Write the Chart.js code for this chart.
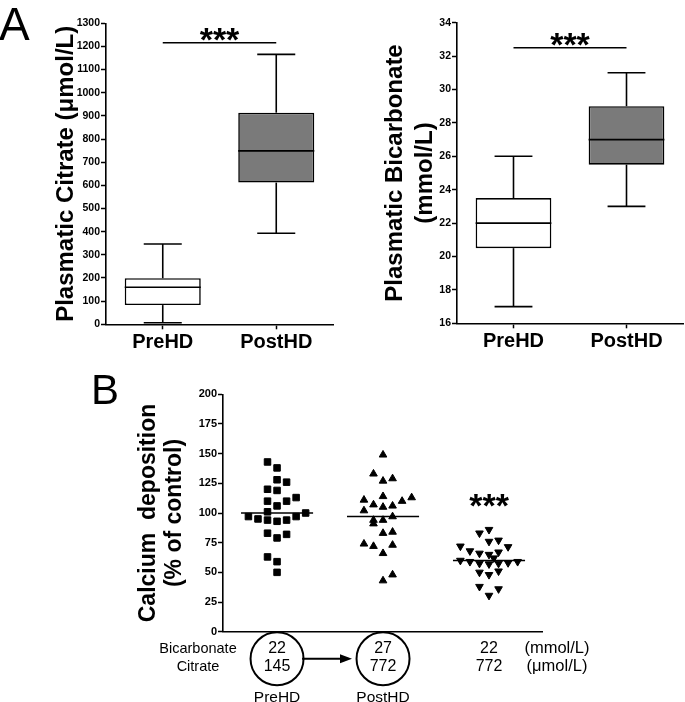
<!DOCTYPE html>
<html>
<head>
<meta charset="utf-8">
<script src="https://cdn.jsdelivr.net/npm/chart.js@4.4.1/dist/chart.umd.min.js"></script>
<style>
  body{margin:0;background:#fff;}
  #wrap{position:relative;width:685px;height:702px;background:#fff;overflow:hidden}
  .cv{position:absolute}
  .letter{position:absolute;font-family:'Liberation Sans',Arial,sans-serif;line-height:1;color:#000}
</style>
</head>
<body>
<div id="wrap">
  <canvas id="c-citrate" class="cv" width="340" height="360" style="left:0;top:0"></canvas>
  <canvas id="c-bicarb" class="cv" width="345" height="360" style="left:340px;top:0"></canvas>
  <canvas id="c-dep" class="cv" width="685" height="342" style="left:0;top:360px"></canvas>
  <div class="letter" style="left:-1px;top:1px;font-size:46px">A</div>
  <div class="letter" style="left:91px;top:369px;font-size:42px">B</div>
</div>
<script>
/* ============================================================
   Plasma citrate / bicarbonate (box plots) + calcium deposition
   ============================================================ */

const FONT = "'Liberation Sans', Arial, Helvetica, sans-serif";
const BOX_CATS = ['PreHD', 'PostHD'];

/* ── A-left: plasmatic citrate (µmol/L) ───────────────────── */
const CIT_LOW  = [7, 393];
const CIT_Q1   = [83, 612];
const CIT_MED  = [160, 749];
const CIT_Q3   = [199, 914];
const CIT_HIGH = [347, 1166];
const CIT_SIG  = 1216;

/* ── A-right: plasmatic bicarbonate (mmol/L) ──────────────── */
const BIC_LOW  = [17, 23];
const BIC_Q1   = [20.5, 25.5];
const BIC_MED  = [22, 27];
const BIC_Q3   = [23.5, 29];
const BIC_HIGH = [26, 31];
const BIC_SIG  = 32.5;

/* ── B: calcium deposition (% of control) ─────────────────── */
// each point = [swarm column, value]
const DEP_PRE = [[-1,143],[0,138],[0,128],[1,126],[-1,120],[0,119],[2,113],[-1,110],[1,110],[0,106],
  [-1,101],[3,100],[-3,97],[2,97],[-2,95],[-1,94],[1,94],[0,93],[-1,83],[1,82],[0,79],[-1,63],[0,59],[0,50]];
const DEP_POST = [[0,149],[-1,133],[0,127],[1,129],[0,114],[3,113],[-2,111],[2,110],[-1,107],[0,105],
  [1,106],[-2,102],[1,97],[-1,94],[0,94],[-1,91],[0,83],[1,84],[-2,74],[-1,72],[1,73],[0,66],[0,43],[1,48]];
const DEP_MIX = [[-1,83],[0,86],[0,76],[1,77],[-3,72],[2,71.5],[-2,68],[-1,66],[0,65],[1,67],
  [0.5,62],[-3,60],[-2,59],[-1,57.5],[0,57],[1,57.5],[2,58],[3,59],[-1,50],[0,48],[1,51],[-1,38],[1,36],[0,30.5]];
const DEP_GROUPS = [1, 2, 3];
const DEP_MEDIAN = [100, 97, 60];
const DEP_STAR   = 112;
const SWARM_STEP = 0.09;
const MED_HALF   = 0.34;

/* rows under panel B */
const ROW_BICARB  = [22, 27, 22];
const ROW_CITRATE = [145, 772, 772];
const ROW_NAMES   = ['PreHD', 'PostHD', ''];
const ROW_CIRCLED = [true, true, false];

Chart.defaults.font.family = FONT;
Chart.defaults.color = '#000';
Chart.defaults.animation = false;

function line(ctx, x0, y0, x1, y1){
  ctx.beginPath(); ctx.moveTo(x0, y0); ctx.lineTo(x1, y1); ctx.stroke();
}

/* ── whiskers, medians, significance bar ──────────────────── */
const boxWhiskers = {
  id: 'boxWhiskers',
  afterDatasetsDraw(chart, args, o){
    const { ctx, scales:{ x, y } } = chart;
    const meta = chart.getDatasetMeta(0);
    ctx.save();
    ctx.strokeStyle = '#000'; ctx.lineWidth = 1.6;
    meta.data.forEach((bar, i) => {
      const cx = bar.x, half = bar.width / 2, cap = bar.width / 4;
      const pHi = y.getPixelForValue(o.high[i]), pLo = y.getPixelForValue(o.low[i]);
      const pQ3 = y.getPixelForValue(o.q3[i]),   pQ1 = y.getPixelForValue(o.q1[i]);
      const pMed = y.getPixelForValue(o.med[i]);
      line(ctx, cx, pHi, cx, pQ3); line(ctx, cx - cap, pHi, cx + cap, pHi);
      line(ctx, cx, pQ1, cx, pLo); line(ctx, cx - cap, pLo, cx + cap, pLo);
      line(ctx, cx - half, pMed, cx + half, pMed);
    });
    const p0 = x.getPixelForValue(0), p1 = x.getPixelForValue(1), ps = y.getPixelForValue(o.sig);
    line(ctx, p0, ps, p1, ps);
    ctx.fillStyle = '#000';
    ctx.font = `bold 34px ${FONT}`;
    ctx.textAlign = 'center'; ctx.textBaseline = 'alphabetic';
    ctx.fillText('***', (p0 + p1) / 2, ps + 8);
    ctx.restore();
  }
};

function axisY(min, max, step, title, titlePad, width, lineH){
  return {
    min, max,
    ticks:{ stepSize:step, padding:1, font:{ size:10.5, weight:'bold' }, callback:v => String(v) },
    grid:{ drawOnChartArea:false, drawTicks:true, tickLength:5, tickColor:'#000', tickWidth:1.5 },
    border:{ display:true, color:'#000', width:1.6 },
    title:{ display:true, text:title, padding:{ top:titlePad, bottom:0 },
            font:{ size:24, weight:'bold', lineHeight:lineH } },
    afterFit(s){ s.width = width; }
  };
}

function mkBoxChart(id, st){
  new Chart(document.getElementById(id), {
    type:'bar',
    data:{ labels:BOX_CATS, datasets:[{
      data: st.q1.map((v, i) => [v, st.q3[i]]),
      backgroundColor:['#ffffff', '#7a7a7a'], borderColor:'#000', borderWidth:1.6,
      borderSkipped:false, barPercentage:0.67, categoryPercentage:1
    }]},
    plugins:[boxWhiskers],
    options:{
      responsive:false,
      layout:{ padding:st.pad },
      plugins:{ legend:{ display:false }, tooltip:{ enabled:false }, boxWhiskers:st },
      scales:{
        x:{ grid:{ offset:false, drawOnChartArea:false, tickLength:5, tickColor:'#000', tickWidth:1.5 },
            border:{ display:true, color:'#000', width:1.6 },
            ticks:{ padding:1, font:{ size:20, weight:'bold' } },
            afterFit(s){ s.height = st.xh; } },
        y: axisY(st.min, st.max, st.step, st.title, st.titlePad, st.yw, st.lineH)
      }
    }
  });
}

mkBoxChart('c-citrate', {
  low:CIT_LOW, q1:CIT_Q1, med:CIT_MED, q3:CIT_Q3, high:CIT_HIGH, sig:CIT_SIG,
  min:0, max:1300, step:100, title:'Plasmatic Citrate (\u03bcmol/L)', titlePad:51.5, lineH:1.2,
  yw:106, xh:35.7, pad:{ left:0, right:7, top:23.3, bottom:0 }
});
mkBoxChart('c-bicarb', {
  low:BIC_LOW, q1:BIC_Q1, med:BIC_MED, q3:BIC_Q3, high:BIC_HIGH, sig:BIC_SIG,
  min:16, max:34, step:2, title:['Plasmatic Bicarbonate', '(mmol/L)'], titlePad:40, lineH:1.25,
  yw:117, xh:36.7, pad:{ left:0, right:2, top:22.7, bottom:0 }
});

/* ── B: rows of concentrations under the axis ─────────────── */
const bottomRows = {
  id: 'bottomRows',
  afterDraw(chart, args, o){
    const { ctx, chartArea, scales:{ x, y } } = chart;
    const b = chartArea.bottom;
    const pos = DEP_GROUPS.map(g => x.getPixelForValue(g));
    ctx.save();
    ctx.fillStyle = '#000'; ctx.strokeStyle = '#000';
    ctx.textAlign = 'center'; ctx.textBaseline = 'middle';

    ctx.font = `14.5px ${FONT}`;
    ctx.fillText('Bicarbonate', chartArea.left - 25, b + 17);
    ctx.fillText('Citrate', chartArea.left - 25, b + 35);

    pos.forEach((px, i) => {
      ctx.font = `16px ${FONT}`;
      ctx.fillText(String(ROW_BICARB[i]), px, b + 17);
      ctx.fillText(String(ROW_CITRATE[i]), px, b + 35);
      if(ROW_CIRCLED[i]){
        ctx.lineWidth = 2;
        ctx.beginPath(); ctx.arc(px, b + 27, 26.5, 0, Math.PI * 2); ctx.stroke();
      }
      if(ROW_NAMES[i]){
        ctx.font = `15.5px ${FONT}`;
        ctx.fillText(ROW_NAMES[i], px, b + 66);
      }
    });

    // arrow PreHD -> PostHD
    const ax0 = pos[0] + 25, ax1 = pos[1] - 31, ay = b + 27;
    ctx.lineWidth = 2;
    line(ctx, ax0, ay, ax1 - 10, ay);
    ctx.beginPath(); ctx.moveTo(ax1, ay); ctx.lineTo(ax1 - 12, ay - 4.5); ctx.lineTo(ax1 - 12, ay + 4.5); ctx.closePath(); ctx.fill();

    ctx.font = `16.5px ${FONT}`;
    ctx.fillText('(mmol/L)', chartArea.right + 15, b + 17);
    ctx.fillText('(\u03bcmol/L)', chartArea.right + 15, b + 35);

    // significance stars over third group
    ctx.font = `bold 34px ${FONT}`;
    ctx.textBaseline = 'alphabetic';
    ctx.fillText('***', pos[2], y.getPixelForValue(DEP_STAR) + 18);
    ctx.restore();
  }
};

function swarm(points, g){
  return points.map(([c, v]) => ({ x: g + c * SWARM_STEP, y: v }));
}
function medianLine(g, m){
  return { data:[{ x:g - MED_HALF, y:m }, { x:g + MED_HALF, y:m }], showLine:true,
           borderColor:'#000', borderWidth:1.6, pointRadius:0 };
}
const PT = { backgroundColor:'#000', borderColor:'#000', borderWidth:1 };

new Chart(document.getElementById('c-dep'), {
  type:'scatter',
  data:{ datasets:[
    medianLine(DEP_GROUPS[0], DEP_MEDIAN[0]),
    medianLine(DEP_GROUPS[1], DEP_MEDIAN[1]),
    medianLine(DEP_GROUPS[2], DEP_MEDIAN[2]),
    { ...PT, data:swarm(DEP_PRE,  DEP_GROUPS[0]), pointStyle:'rect',     pointRadius:4.6 },
    { ...PT, data:swarm(DEP_POST, DEP_GROUPS[1]), pointStyle:'triangle', pointRadius:4.4 },
    { ...PT, data:swarm(DEP_MIX,  DEP_GROUPS[2]), pointStyle:'triangle', pointRadius:4.4, rotation:180 }
  ]},
  plugins:[bottomRows],
  options:{
    responsive:false,
    layout:{ padding:{ left:0, right:143, top:34.3, bottom:70.3 } },
    plugins:{ legend:{ display:false }, tooltip:{ enabled:false } },
    scales:{
      x:{ type:'linear', min:0.49, max:3.5,
          ticks:{ display:false }, grid:{ display:false },
          border:{ display:true, color:'#000', width:1.6 },
          afterFit(s){ s.height = 0; } },
      y:{ min:0, max:200,
          ticks:{ stepSize:25, padding:1, font:{ size:11, weight:'bold' } },
          grid:{ drawOnChartArea:false, drawTicks:true, tickLength:5, tickColor:'#000', tickWidth:1.5 },
          border:{ display:true, color:'#000', width:1.6 },
          title:{ display:true, text:['Calcium  deposition', '(% of control)'], padding:{ top:136, bottom:0 },
                  font:{ size:23, weight:'bold', lineHeight:1.12 } },
          afterFit(s){ s.width = 223; } }
    }
  }
});
</script>
</body>
</html>
